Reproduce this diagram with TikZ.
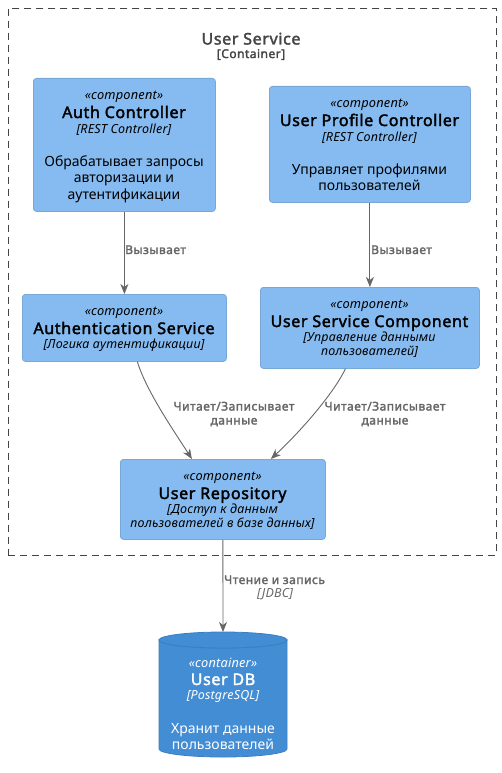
\documentclass[tikz,border=0pt]{standalone}
\usepackage{fontspec}
\setmainfont{Noto Sans}[BoldFont={Noto Sans},BoldFeatures={FakeBold=2.2,LetterSpace=4},ItalicFeatures={LetterSpace=1.5}]
\usetikzlibrary{arrows.meta}
\definecolor{compfill}{HTML}{85BBF0}
\definecolor{compline}{HTML}{78A8D8}
\definecolor{dbfill}{HTML}{438DD5}
\definecolor{dbline}{HTML}{3C7FC0}
\definecolor{edge}{HTML}{666666}
\definecolor{frame}{HTML}{444444}
\tikzset{
  comp/.style={draw=compline, fill=compfill, rounded corners=3pt, line width=0.8pt, inner sep=0pt, anchor=north west},
  stereo/.style={anchor=base, inner sep=0pt, font=\fontsize{12.8}{14}\selectfont\itshape},
  ttl/.style={anchor=base, inner sep=0pt, font=\fontsize{16}{18}\selectfont\bfseries},
  tech/.style={anchor=base, inner sep=0pt, font=\fontsize{12.5}{14}\selectfont\itshape},
  desc/.style={anchor=base, inner sep=0pt, font=\fontsize{14}{16}\selectfont},
  lbl/.style={anchor=base, inner sep=0pt, text=edge, font=\fontsize{12}{14}\selectfont\bfseries},
  rel/.style={draw=edge, line width=0.9pt, -{Stealth[length=10pt,width=8pt,inset=3pt]}},
}
\begin{document}
\begin{tikzpicture}[x=1pt,y=-1pt]
\useasboundingbox (0,0) rectangle (501,773);
% boundary
\node[draw=frame, dashed, dash pattern=on 7pt off 5pt, line width=0.8pt, minimum width=488pt, minimum height=547pt, inner sep=0pt, anchor=north west] (boundary) at (8,8) {};
\node[anchor=base, inner sep=0pt, text=frame, font=\fontsize{16}{18}\selectfont\bfseries] (bt) at (251,44.5) {User Service};
\node[anchor=base, inner sep=0pt, text=frame, font=\fontsize{12}{14}\selectfont\bfseries] (bs) at (251,58) {[Container]};

% Auth Controller
\node[comp, minimum width=182pt, minimum height=133pt] (ac) at (33,78) {};
\node[stereo] (ac1) at (124,100) {«component»};
\node[ttl] (ac2) at (124,118) {Auth Controller};
\node[tech] (ac3) at (124,133) {[REST Controller]};
\node[desc] (ac4) at (124,166) {Обрабатывает запросы};
\node[desc] (ac5) at (124,182.5) {авторизации и};
\node[desc] (ac6) at (124,199) {аутентификации};

% User Profile Controller
\node[comp, minimum width=201pt, minimum height=116pt] (pc) at (269,86) {};
\node[stereo] (pc1) at (369.5,108) {«component»};
\node[ttl] (pc2) at (369.5,126) {User Profile Controller};
\node[tech] (pc3) at (369.5,141) {[REST Controller]};
\node[desc] (pc4) at (369.5,174) {Управляет профилями};
\node[desc] (pc5) at (369.5,190.5) {пользователей};

% Authentication Service
\node[comp, minimum width=204pt, minimum height=67pt] (as) at (22,294) {};
\node[stereo] (as1) at (124,315.5) {«component»};
\node[ttl] (as2) at (124,334) {Authentication Service};
\node[tech] (as3) at (124,348.5) {[Логика аутентификации]};

% User Service Component
\node[comp, minimum width=219pt, minimum height=81pt] (usc) at (260,287) {};
\node[stereo] (usc1) at (369.5,308.5) {«component»};
\node[ttl] (usc2) at (369.5,327) {User Service Component};
\node[tech] (usc3) at (369.5,341.5) {[Управление данными};
\node[tech] (usc4) at (369.5,355.5) {пользователей]};

% User Repository
\node[comp, minimum width=205pt, minimum height=80pt] (repo) at (120,459) {};
\node[stereo] (repo1) at (222.5,480.5) {«component»};
\node[ttl] (repo2) at (222.5,499) {User Repository};
\node[tech] (repo3) at (222.5,513.5) {[Доступ к данным};
\node[tech] (repo4) at (222.5,527.5) {пользователей в базе данных]};

% User DB cylinder
\path[fill=dbfill, draw=dbline, line width=0.8pt]
  (159,640) -- (159,749) arc[start angle=180, end angle=0, x radius=64, y radius=8]
  -- (287,640) arc[start angle=0, end angle=180, x radius=64, y radius=8] -- cycle;
\path[fill=dbfill, draw=dbline, line width=0.8pt]
  (223,640) ellipse[x radius=64, y radius=8];
\node[inner sep=0pt, minimum width=128pt, minimum height=125pt, anchor=north] (db) at (223,632) {};
\node[stereo, text=white] (db1) at (223,667) {«container»};
\node[ttl, text=white] (db2) at (223,685) {User DB};
\node[tech, text=white] (db3) at (223,699) {[PostgreSQL]};
\node[desc, text=white] (db4) at (223,733) {Хранит данные};
\node[desc, text=white] (db5) at (223,749) {пользователей};

% relations
\draw[rel] (ac.south) -- (as.north -| ac.south);
\node[lbl, anchor=base west] (l1) at (125,254) {Вызывает};
\draw[rel] (pc.south) -- (usc.north -| pc.south);
\node[lbl, anchor=base west] (l2) at (371,254) {Вызывает};

\draw[rel] ([xshift=13pt]as.south) .. controls +(9,30) and +(-14,-22) .. ([xshift=-31pt]repo.north);
\node[lbl] (l3) at (234,410.5) {Читает/Записывает};
\node[lbl] (l4) at (234,424.5) {данные};
\draw[rel] ([xshift=-24.5pt]usc.south) .. controls +(-12,25) and +(30,-28) .. ([xshift=48pt]repo.north);
\node[lbl] (l5) at (385,410.5) {Читает/Записывает};
\node[lbl] (l6) at (385,424.5) {данные};

\draw[rel] (repo.south) -- (db.north);
\node[lbl, anchor=base west] (l7) at (224,584) {Чтение и запись};
\node[anchor=base, inner sep=0pt, text=edge, font=\fontsize{12.5}{14}\selectfont\itshape] (l8) at (275,597) {[JDBC]};
\end{tikzpicture}
\end{document}
